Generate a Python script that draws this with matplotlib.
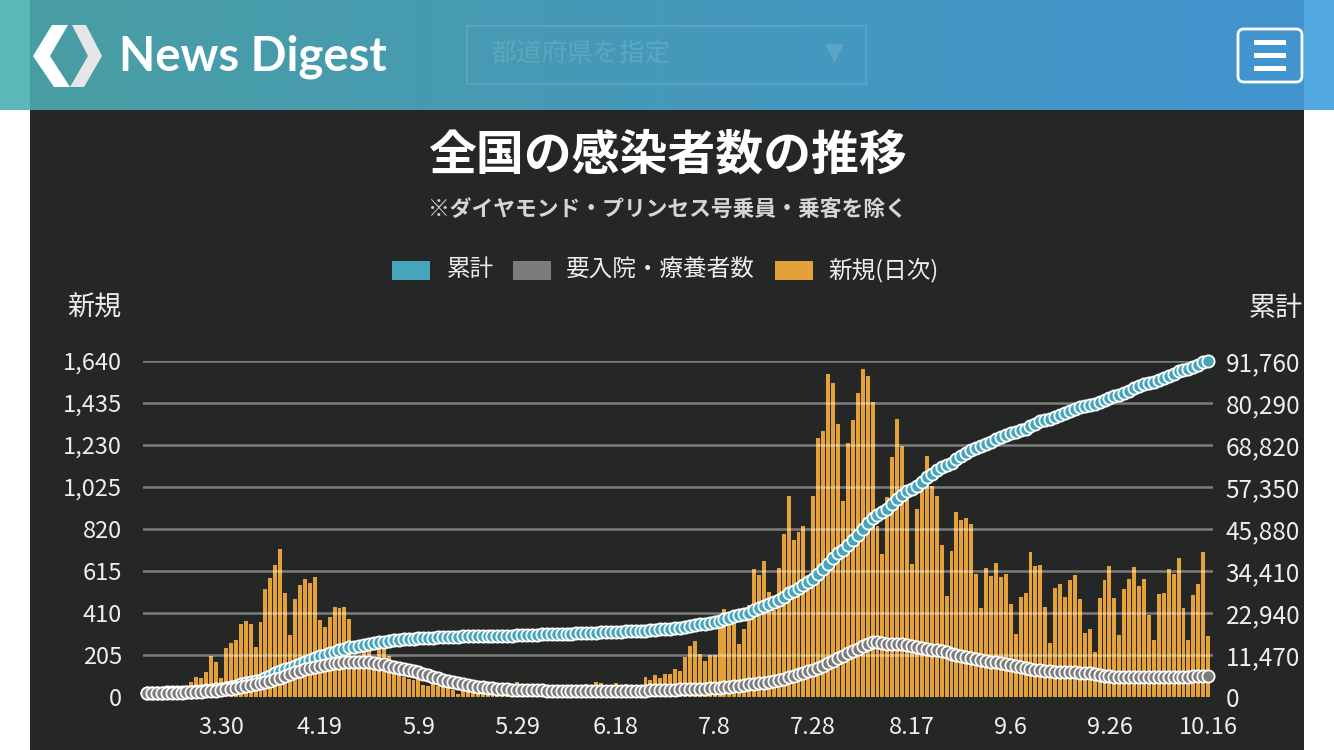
import numpy as np
import pandas as pd
import matplotlib
matplotlib.use('Agg')
import matplotlib.pyplot as plt
import matplotlib.patches as mpatches

plt.rcParams['font.family'] = ['Noto Sans CJK JP', 'DejaVu Sans']

# ---- data ----
dates = pd.date_range('2020-03-15', '2020-10-16', freq='D')

# 新規(日次)
new_daily = [
    25, 15, 14, 44, 39, 37, 56, 44, 38,
    72, 98, 94, 122, 200, 172, 93, 241, 265, 278, 356, 371, 356, 244, 368, 525,
    579, 644, 721, 508, 303, 478, 547, 578, 556, 584,
    376, 343, 392, 439, 436, 441, 382,
    200, 185, 270, 245, 165, 260, 233, 200, 175, 125, 97, 90, 84, 112, 58, 52,
    87, 55, 100, 57, 34, 15, 36, 30, 24, 40, 26, 15, 20, 14, 21, 38, 42,
    75, 50, 35, 40, 47, 37, 35, 40, 38, 30, 45, 40, 45, 38, 62, 45, 75, 70, 35, 42,
    70, 54, 63, 54, 40, 57, 96, 83, 106, 93, 112, 111, 138, 125,
    194, 250, 273, 208, 176, 207, 207, 355, 430, 385, 408, 260, 333, 449, 623, 595,
    662, 511, 425, 630, 796, 981, 768, 804, 836, 597, 981, 1263, 1300, 1577, 1534,
    1331, 958, 1238, 1352, 1484, 1603, 1568, 1438,
    836, 698, 978, 1173, 1357, 1225, 1010, 649, 916, 1075, 1178, 1031, 981, 742,
    493, 714, 901, 862, 872, 843, 599, 436, 631, 591, 656, 586, 599, 452, 307, 490,
    506, 709, 641, 646,
    438, 265, 530, 550, 488, 571, 594, 478, 311, 330, 218, 482, 573, 639, 485, 301,
    527, 576, 633, 542, 574, 400, 280, 501, 508, 625, 602, 678, 434, 278, 498, 552,
    708, 298,
]

# 累計
total = [
    1140, 1155, 1169, 1213, 1252, 1289, 1345, 1389, 1427, 1499,
    1597, 1691, 1813, 2013, 2185, 2278, 2519, 2784, 3062, 3418,
    3789, 4145, 4389, 4757, 5282, 5861, 6505, 7226, 7734, 8037,
    8515, 9062, 9640, 10196, 10780, 11156, 11499, 11891, 12330, 12766,
    13207, 13589, 13789, 13974, 14244, 14489, 14654, 14914, 15147, 15347,
    15522, 15647, 15744, 15834, 15918, 16030, 16088, 16140, 16227, 16282,
    16382, 16439, 16473, 16488, 16524, 16554, 16578, 16618, 16644, 16659,
    16679, 16693, 16714, 16752, 16794, 16869, 16919, 16954, 16994, 17041,
    17078, 17113, 17153, 17191, 17221, 17266, 17306, 17351, 17389, 17451,
    17496, 17571, 17641, 17676, 17718, 17788, 17842, 17905, 17959, 17999,
    18056, 18152, 18235, 18341, 18434, 18546, 18657, 18795, 18920, 19114,
    19364, 19637, 19845, 20021, 20228, 20435, 20790, 21220, 21605, 22013,
    22273, 22606, 23055, 23678, 24273, 24935, 25446, 25871, 26501, 27297,
    28278, 29046, 29850, 30686, 31283, 32264, 33527, 34827, 36404, 37938,
    39269, 40227, 41465, 42817, 44301, 45904, 47472, 48910, 49746, 50444,
    51422, 52595, 53952, 55177, 56187, 56836, 57752, 58827, 60005, 61036,
    62017, 62759, 63252, 63966, 64867, 65729, 66601, 67444, 68043, 68479,
    69110, 69701, 70357, 70943, 71542, 71994, 72301, 72791, 73297, 74006,
    74647, 75293, 75731, 75996, 76526, 77076, 77564, 78135, 78729, 79207,
    79518, 79848, 80066, 80548, 81121, 81760, 82245, 82546, 83073, 83649,
    84282, 84824, 85398, 85798, 86078, 86579, 87087, 87712, 88314, 88992,
    89426, 89704, 90202, 90754, 91462, 91760,
]

# 要入院・療養者数
patients = [
    1000, 1020, 1040, 1060, 1090, 1120, 1160, 1200, 1250, 1300, 1360, 1430, 1510, 1600, 1700, 1850,
    2050, 2300, 2550, 2800, 3050, 3300, 3500, 3740, 4100, 4500, 4900, 5300, 5800, 6200,
    6700, 7150, 7550, 7900, 8200, 8500,
    8800, 9000, 9200, 9350, 9450, 9550, 9600, 9600, 9550, 9450,
    9300, 9100, 8900, 8600, 8300, 8000, 7700, 7400, 7050, 6700, 6300, 5900, 5500, 5100,
    4750, 4400, 4050, 3750, 3450, 3200, 3000, 2800, 2650, 2500, 2380, 2270, 2170, 2080,
    2000, 1950, 1900, 1860, 1830, 1800,
    1780, 1770, 1760, 1750, 1740, 1730, 1720, 1710, 1700, 1700, 1690, 1690, 1690, 1680,
    1680, 1680, 1690, 1700, 1710, 1720, 1740, 1760, 1790, 1820, 1860, 1900, 1950, 2000, 2060,
    2100, 2150, 2200, 2260, 2320, 2380, 2450, 2550, 2680, 2820, 2970, 3120, 3280, 3440,
    3600, 3760, 3920, 4100, 4350, 4650, 5000, 5400, 5800, 6200, 6600, 7000, 7450, 8000,
    8600, 9250, 9900, 10600, 11250, 11900, 12550, 13200, 13850, 14450, 15000,
    15100, 14700, 14400, 14400, 14550, 14600, 14300, 13900, 13600, 13300, 13000, 12800,
    12700, 12500, 12200, 11800, 11500, 11200, 10900, 10600, 10300, 10000, 9800, 9650,
    9450, 9200, 8950, 8700, 8450, 8200, 7950, 7700, 7450, 7250,
    7100, 6980, 6900, 6850, 6800, 6750, 6700, 6650, 6600, 6500, 6200, 5900, 5700, 5600,
    5550, 5500, 5450, 5420, 5400, 5400, 5380, 5370, 5350, 5350, 5360, 5380, 5400, 5450,
    5500, 5550, 5600, 5650, 5700, 5750,
]

left_ticks = [0, 205, 410, 615, 820, 1025, 1230, 1435, 1640]
right_ticks = [0, 11470, 22940, 34410, 45880, 57350, 68820, 80290, 91760]
xtick_dates = pd.date_range('2020-03-30', '2020-10-16', freq='20D')

series_names = ['累計', '要入院・療養者数', '新規(日次)']

# ---- colours ----
BG = '#252626'
C_TOTAL = '#47a5bb'
C_PAT = '#7c7c7c'
C_NEW = '#e5a139'
TXT = '#eeeeee'

W, H = 1334, 750
fig = plt.figure(figsize=(W / 100, H / 100), dpi=100, facecolor='white')

# page / header layer in pixel coordinates
bg = fig.add_axes([0, 0, 1, 1])
bg.set_xlim(0, W)
bg.set_ylim(H, 0)
bg.axis('off')

bg.add_patch(mpatches.Rectangle((30, 110), 1274, 640, fc=BG, ec='none'))
grad = np.linspace(0, 1, 256)
c0 = np.array([73, 158, 163]) / 255
c1 = np.array([66, 148, 208]) / 255
img = (c0[None, :] * (1 - grad[:, None]) + c1[None, :] * grad[:, None])[None, :, :]
bg.imshow(img, extent=(30, 1304, 110, 0), aspect='auto', zorder=1)
bg.add_patch(mpatches.Rectangle((0, 0), 30, 110, fc='#5bb8b8', ec='none', zorder=1))
bg.add_patch(mpatches.Rectangle((1304, 0), 30, 110, fc='#52a9e2', ec='none', zorder=1))
bg.set_xlim(0, W)
bg.set_ylim(H, 0)

# logo
bg.add_patch(mpatches.Polygon([(52, 25), (68, 25), (50, 56), (70, 87), (54, 87), (33, 56)],
                              fc='white', ec='none', zorder=3))
bg.add_patch(mpatches.Polygon([(72, 25), (86, 25), (102, 56), (84, 87), (70, 87), (88, 56)],
                              fc='#e6e6e6', ec='none', zorder=3))
bg.text(119, 57, 'News Digest', color='white', fontsize=34, fontweight='bold',
        family=['Lato', 'DejaVu Sans'], va='center', ha='left', zorder=3)

# prefecture selector
bg.add_patch(mpatches.Rectangle((467, 26), 399, 58, fc='none', ec=(1, 1, 1, 0.12), lw=1.5, zorder=3))
bg.text(490, 55, '都道府県を指定', color=(1, 1, 1, 0.13), fontsize=18.5, va='center', zorder=3)
bg.text(835, 53, '▼', color=(1, 1, 1, 0.13), fontsize=18, va='center', ha='center',
        family=['DejaVu Sans'], zorder=3)

# menu button
bg.add_patch(mpatches.FancyBboxPatch((1238, 29), 64, 53, boxstyle='round,pad=0,rounding_size=6',
                                     fc='none', ec='white', lw=2, zorder=3))
for yy in (42, 55, 68):
    bg.add_patch(mpatches.Rectangle((1254, yy - 2.5), 32, 5, fc='white', ec='none', zorder=3))

# titles
bg.text(667, 155, '全国の感染者数の推移', color='white', fontsize=34.5, fontweight='bold',
        ha='center', va='center', zorder=3)
bg.text(667, 209, '※ダイヤモンド・プリンセス号乗員・乗客を除く', color='#d5d5d5', fontsize=15.7,
        fontweight='bold', ha='center', va='center', zorder=3)

# legend
for x0, col, name, tx in [(392, C_TOTAL, series_names[0], 447),
                          (513, C_PAT, series_names[1], 566),
                          (775, C_NEW, series_names[2], 828)]:
    bg.add_patch(mpatches.Rectangle((x0, 261), 38, 19, fc=col, ec='none', zorder=3))
    bg.text(tx, 270, name, color=TXT, fontsize=17, va='center', ha='left', zorder=3)

bg.text(67, 308, '新規', color=TXT, fontsize=19.5, va='center', ha='left', zorder=3)
bg.text(1303, 308, '累計', color=TXT, fontsize=19.5, va='center', ha='right', zorder=3)

# ---- chart ----
ax = fig.add_axes([143 / W, 53 / H, 1070 / W, 336 / H])
ax.set_facecolor('none')
ax.bar(dates, new_daily, width=0.8, color=C_NEW, zorder=2)
for t in left_ticks[1:]:
    ax.axhline(t, color='white', alpha=0.4, lw=1.8, zorder=3)
ax.set_ylim(0, 1640)
ax.set_xlim(dates[0] - pd.Timedelta(days=0.81), dates[-1] + pd.Timedelta(days=0.98))
ax.set_yticks(left_ticks)
ax.set_yticklabels([f'{v:,}' for v in left_ticks])
ax.set_xticks(xtick_dates)
ax.set_xticklabels([f'{d.month}.{d.day}' for d in xtick_dates])
ax.tick_params(axis='both', length=0, colors=TXT, labelsize=17)
ax.tick_params(axis='y', pad=15)
ax.tick_params(axis='x', pad=14)
for s in ax.spines.values():
    s.set_visible(False)

ax2 = ax.twinx()
ax2.plot(dates, total, color='white', lw=1, marker='o', ms=8.8, mfc=C_TOTAL, mec='white',
         mew=1.3, clip_on=False, zorder=3)
ax2.plot(dates, patients, color='white', lw=1, marker='o', ms=8.8, mfc=C_PAT, mec='white',
         mew=1.3, clip_on=False, zorder=4)
ax2.set_ylim(0, 91760)
ax2.set_yticks(right_ticks)
ax2.set_yticklabels([f'{v:,}' for v in right_ticks])
ax2.tick_params(axis='y', length=0, colors=TXT, labelsize=17.5, pad=9)
for s in ax2.spines.values():
    s.set_visible(False)

fig.savefig('out.png', dpi=100, facecolor='white')
